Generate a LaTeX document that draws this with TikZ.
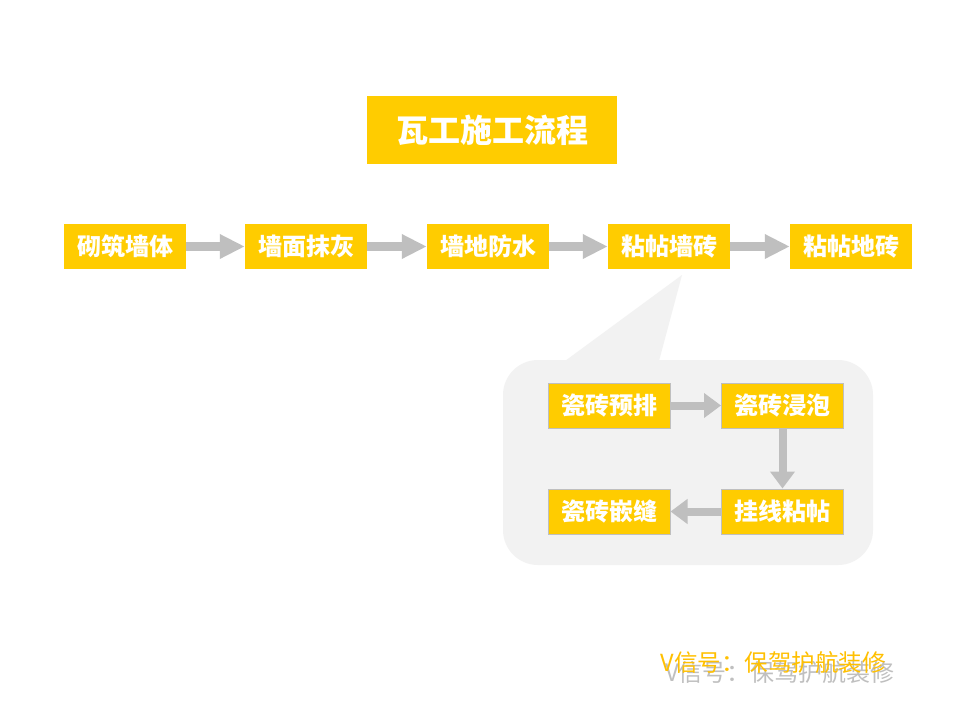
\documentclass[tikz,border=0pt]{standalone}
\usepackage{fontspec}
\setmainfont{Noto Sans CJK SC}
\usetikzlibrary{arrows.meta}
\definecolor{boxyellow}{HTML}{FFCC00}
\definecolor{arrowgray}{HTML}{BFBFBF}
\definecolor{bubble}{HTML}{F2F2F2}
\definecolor{wmorange}{HTML}{FFC000}
\tikzset{
  stepbox/.style={fill=boxyellow, minimum width=122pt, minimum height=45pt, inner sep=0pt, text=white, font=\fontsize{24pt}{26pt}\selectfont\bfseries, anchor=center},
  substep/.style={stepbox, draw=arrowgray, line width=1pt},
  bigarrow/.style={draw=arrowgray, line width=9pt, -{Triangle[length=25pt,width=23pt,fill=arrowgray]}},
  smallarrow/.style={draw=arrowgray, line width=8pt, -{Triangle[length=17pt,width=24pt,fill=arrowgray]}},
}
\begin{document}
\begin{tikzpicture}[x=1pt,y=-1pt]
\useasboundingbox (0,0) rectangle (960,720);
\fill[white] (0,0) rectangle (960,720);
% title
\node[fill=boxyellow, minimum width=250pt, minimum height=68pt, inner sep=0pt, text=white, font=\fontsize{32pt}{34pt}\selectfont\bfseries] (title) at (492,130) {瓦工施工流程};
% top row
\node[stepbox] (s1) at (125,246.5) {砌筑墙体};
\node[stepbox] (s2) at (306,246.5) {墙面抹灰};
\node[stepbox] (s3) at (488,246.5) {墙地防水};
\node[stepbox] (s4) at (669,246.5) {粘帖墙砖};
\node[stepbox] (s5) at (851,246.5) {粘帖地砖};
\draw[bigarrow] (s1.east) -- (s2.west);
\draw[bigarrow] (s2.east) -- (s3.west);
\draw[bigarrow] (s3.east) -- (s4.west);
\draw[bigarrow] (s4.east) -- (s5.west);
% callout
\fill[bubble, rounded corners=35pt] (503,360) rectangle (873,565);
\fill[bubble] (565,361) -- (682,275) -- (659,361) -- cycle;
\node[substep] (a) at (609,405.5) {瓷砖预排};
\node[substep] (b) at (782.5,405.5) {瓷砖浸泡};
\node[substep] (c) at (782.5,511.5) {挂线粘帖};
\node[substep] (d) at (609,511.5) {瓷砖嵌缝};
\draw[smallarrow] (a.east) -- (b.west);
\draw[smallarrow] (b.south) -- (c.north);
\draw[smallarrow] (c.west) -- (d.east);
% watermark
\node[text=arrowgray, font=\fontsize{24pt}{26pt}\selectfont, inner sep=0pt] (wm2) at (780,672) {V信号：保驾护航装修};
\node[text=wmorange, font=\fontsize{23.5pt}{26pt}\selectfont, inner sep=0pt] (wm1) at (773,663) {V信号：保驾护航装修};
\end{tikzpicture}
\end{document}
